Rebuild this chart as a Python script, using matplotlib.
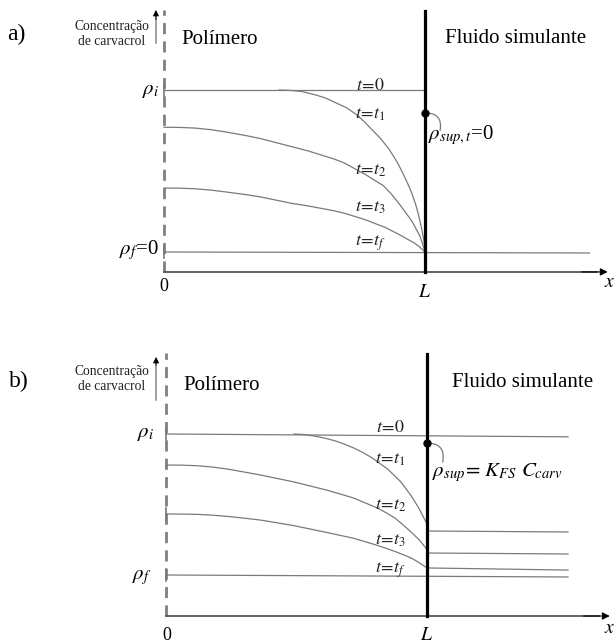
import matplotlib
matplotlib.use("Agg")
import matplotlib.pyplot as plt

plt.rcParams['font.family'] = ['Liberation Serif', 'DejaVu Serif']
plt.rcParams['mathtext.fontset'] = 'stix'

# --- profile data (x: 0 = polymer surface, 1 = L ; y: 0 = rho_f, 1 = rho_i) ---
# panel a
a_t0_x = [0.0, 1.0]
a_t0_y = [1.0, 1.0]
a_t1_x = [0.44, 0.49, 0.53, 0.58, 0.62, 0.66, 0.70, 0.74, 0.77, 0.80, 0.83, 0.86, 0.88,
          0.90, 0.92, 0.94, 0.95, 0.965, 0.975, 0.985, 0.99, 0.997, 1.00]
a_t1_y = [1.00, 0.997, 0.99, 0.97, 0.95, 0.92, 0.89, 0.845, 0.80, 0.75, 0.70, 0.64, 0.59,
          0.535, 0.47, 0.40, 0.36, 0.29, 0.23, 0.16, 0.12, 0.06, 0.00]
a_t2_x = [0.00, 0.06, 0.12, 0.18, 0.24, 0.31, 0.37, 0.43, 0.49, 0.55, 0.60, 0.65, 0.69,
          0.73, 0.77, 0.81, 0.84, 0.87, 0.90, 0.925, 0.95, 0.965, 0.98, 0.99, 1.00]
a_t2_y = [0.77, 0.769, 0.765, 0.755, 0.74, 0.72, 0.70, 0.675, 0.65, 0.625, 0.60, 0.575,
          0.55, 0.515, 0.48, 0.44, 0.41, 0.36, 0.30, 0.245, 0.19, 0.145, 0.10, 0.055, 0.00]
a_t3_x = [0.00, 0.06, 0.12, 0.18, 0.24, 0.31, 0.37, 0.43, 0.49, 0.55, 0.60, 0.65, 0.69,
          0.73, 0.77, 0.81, 0.85, 0.88, 0.91, 0.935, 0.96, 0.98, 1.00]
a_t3_y = [0.395, 0.394, 0.39, 0.382, 0.37, 0.355, 0.34, 0.32, 0.30, 0.285, 0.27, 0.255,
          0.24, 0.22, 0.20, 0.175, 0.15, 0.125, 0.10, 0.077, 0.055, 0.03, 0.00]
a_tf_x = [0.0, 1.63]
a_tf_y = [0.0, -0.006]

# panel b
b_t0_x = [0.0, 1.54]
b_t0_y = [1.0, 0.98]
b_t1_x = [0.49, 0.53, 0.57, 0.61, 0.65, 0.685, 0.72, 0.755, 0.79, 0.82, 0.85, 0.875,
          0.90, 0.92, 0.94, 0.955, 0.97, 0.985, 1.00]
b_t1_y = [1.00, 0.996, 0.985, 0.97, 0.95, 0.927, 0.90, 0.868, 0.83, 0.79, 0.75, 0.705,
          0.66, 0.61, 0.56, 0.515, 0.47, 0.415, 0.36]
b_t2_x = [0.00, 0.06, 0.12, 0.18, 0.24, 0.30, 0.36, 0.42, 0.49, 0.555, 0.62, 0.67, 0.72,
          0.765, 0.81, 0.845, 0.88, 0.905, 0.93, 0.95, 0.97, 0.985, 1.00]
b_t2_y = [0.78, 0.779, 0.775, 0.765, 0.75, 0.73, 0.71, 0.687, 0.66, 0.63, 0.60, 0.573,
          0.545, 0.51, 0.475, 0.44, 0.40, 0.36, 0.32, 0.285, 0.25, 0.215, 0.18]
b_t3_x = [0.00, 0.06, 0.12, 0.18, 0.24, 0.30, 0.36, 0.42, 0.49, 0.555, 0.62, 0.67, 0.72,
          0.765, 0.81, 0.845, 0.88, 0.91, 0.94, 0.97, 1.00]
b_t3_y = [0.433, 0.432, 0.43, 0.424, 0.415, 0.403, 0.39, 0.372, 0.35, 0.325, 0.30, 0.28,
          0.26, 0.235, 0.21, 0.188, 0.165, 0.143, 0.12, 0.087, 0.05]
b_tf_x = [0.0, 1.54]
b_tf_y = [0.0, -0.014]
# levels in the simulant fluid (start at L, end at right)
b_fluid_x = [1.0, 1.54]
b_fluid_t1 = [0.312, 0.305]
b_fluid_t2 = [0.156, 0.149]
b_fluid_t3 = [0.05, 0.035]

t_labels = [r'$t\!=\!\mathit{0}$', r'$t\!=\!t_1$', r'$t\!=\!t_2$', r'$t\!=\!t_3$', r'$t\!=\!t_f$']
a_label_y = [1.03, 0.846, 0.506, 0.272, 0.056]
b_label_y = [1.043, 0.816, 0.496, 0.248, 0.035]

line_col = '#7a7a7a'
dark_col = '#555555'

fig = plt.figure(figsize=(6.16, 6.44), dpi=100)
ax_a = fig.add_axes([0, 0.5, 1, 0.5])
ax_b = fig.add_axes([0, 0, 1, 0.5])
ax_a.set_xlim(-0.6284, 1.7318)
ax_a.set_ylim(-0.4321, 1.5556)
ax_b.set_xlim(-0.636, 1.724)
ax_b.set_ylim(-0.4894, 1.7943)


def frame(ax, y_axis, y_top, arrow_x, arrow_y0, arrow_top, panel, conc_y, head_y):
    ax.axis('off')
    # dashed polymer surface
    ax.plot([0, 0], [y_axis, y_top], color='#808080', lw=2.0, dashes=(4, 2.6))
    # x axis
    ax.plot([0, 1.66], [y_axis, y_axis], color=dark_col, lw=1.3)
    ax.annotate('', xy=(1.70, y_axis), xytext=(1.60, y_axis),
                arrowprops=dict(arrowstyle='-|>', color='black', lw=0.8,
                                mutation_scale=11, shrinkA=0, shrinkB=0))
    # concentration arrow
    ax.plot([arrow_x, arrow_x], [arrow_y0, arrow_top - 0.03], color='#888888', lw=1.1)
    ax.annotate('', xy=(arrow_x, arrow_top), xytext=(arrow_x, arrow_top - 0.06),
                arrowprops=dict(arrowstyle='-|>', color='black', lw=0.6,
                                mutation_scale=9, shrinkA=0, shrinkB=0))
    # interface L
    ax.plot([1, 1], [y_axis, y_top - 0.005], color='black', lw=2.3, zorder=5)
    ax.text(-0.60, head_y, panel, fontsize=17, ha='left', va='center')
    ax.text(arrow_x - 0.17, conc_y, 'Concentração\nde carvacrol', fontsize=9.8,
            ha='center', va='center', linespacing=1.2, color='#222222')
    ax.text(0.068, head_y - 0.03, 'Polímero', fontsize=15, ha='left', va='center')


# ---------------- panel a ----------------
frame(ax_a, -0.123, 1.494, -0.031, 1.29, 1.494, 'a)', 1.346, 1.34)
ax_a.text(1.077, 1.321, 'Fluido simulante', fontsize=15, ha='left', va='center')
for xs, ys in [(a_t0_x, a_t0_y), (a_t1_x, a_t1_y), (a_t2_x, a_t2_y),
               (a_t3_x, a_t3_y), (a_tf_x, a_tf_y)]:
    ax_a.plot(xs, ys, color=line_col, lw=0.9)
for yy in [1.0, 0.0]:
    ax_a.plot([0, 0], [yy - 0.035, yy + 0.035], color=line_col, lw=1.2)
for lab, yy in zip(t_labels, a_label_y):
    ax_a.text(0.79, yy, lab, fontsize=13, ha='center', va='center', color='#222222')
ax_a.text(-0.02, 1.0, r'$\rho_i$', fontsize=15, ha='right', va='center')
ax_a.text(-0.02, 0.01, r'$\rho_f$=0', fontsize=15, ha='right', va='center')
ax_a.text(0.0, -0.216, '0', fontsize=13, ha='center', va='center')
ax_a.text(1.0, -0.247, r'$L$', fontsize=14, ha='center', va='center')
ax_a.text(1.709, -0.191, r'$x$', fontsize=14, ha='center', va='center')
ax_a.plot([1.0], [0.858], 'o', color='black', ms=5, zorder=6)
ax_a.annotate('', xy=(1.0, 0.858), xytext=(1.058, 0.75),
              arrowprops=dict(arrowstyle='-', color=line_col, lw=0.9,
                              connectionstyle='arc3,rad=0.6', shrinkA=0, shrinkB=0))
ax_a.text(1.011, 0.722, r'$\rho_{sup,t}$=0', fontsize=15, ha='left', va='center')

# ---------------- panel b ----------------
frame(ax_b, -0.291, 1.574, -0.038, 1.241, 1.546, 'b)', 1.39, 1.372)
ax_b.text(1.096, 1.362, 'Fluido simulante', fontsize=15, ha='left', va='center')
for xs, ys in [(b_t0_x, b_t0_y), (b_t1_x, b_t1_y), (b_t2_x, b_t2_y),
               (b_t3_x, b_t3_y), (b_tf_x, b_tf_y)]:
    ax_b.plot(xs, ys, color=line_col, lw=0.9)
for ys in [b_fluid_t1, b_fluid_t2, b_fluid_t3]:
    ax_b.plot(b_fluid_x, ys, color=line_col, lw=0.9)
for yy in [1.0, 0.433, 0.0]:
    ax_b.plot([0, 0], [yy - 0.04, yy + 0.04], color=line_col, lw=1.2)
for lab, yy in zip(t_labels, b_label_y):
    ax_b.text(0.86, yy, lab, fontsize=13, ha='center', va='center', color='#222222')
ax_b.text(-0.046, 1.007, r'$\rho_i$', fontsize=15, ha='right', va='center')
ax_b.text(-0.057, -0.02, r'$\rho_f$', fontsize=15, ha='right', va='center')
ax_b.text(0.004, -0.426, '0', fontsize=13, ha='center', va='center')
ax_b.text(1.0, -0.426, r'$L$', fontsize=14, ha='center', va='center')
ax_b.text(1.701, -0.376, r'$x$', fontsize=14, ha='center', va='center')
ax_b.plot([1.0], [0.936], 'o', color='black', ms=5, zorder=6)
ax_b.annotate('', xy=(1.0, 0.936), xytext=(1.06, 0.80),
              arrowprops=dict(arrowstyle='-', color=line_col, lw=0.9,
                              connectionstyle='arc3,rad=0.6', shrinkA=0, shrinkB=0))
ax_b.text(1.019, 0.73, r'$\rho_{sup}\!=\,K_{FS}\ C_{carv}$', fontsize=15,
          ha='left', va='center')

fig.savefig('out.png', dpi=100)
